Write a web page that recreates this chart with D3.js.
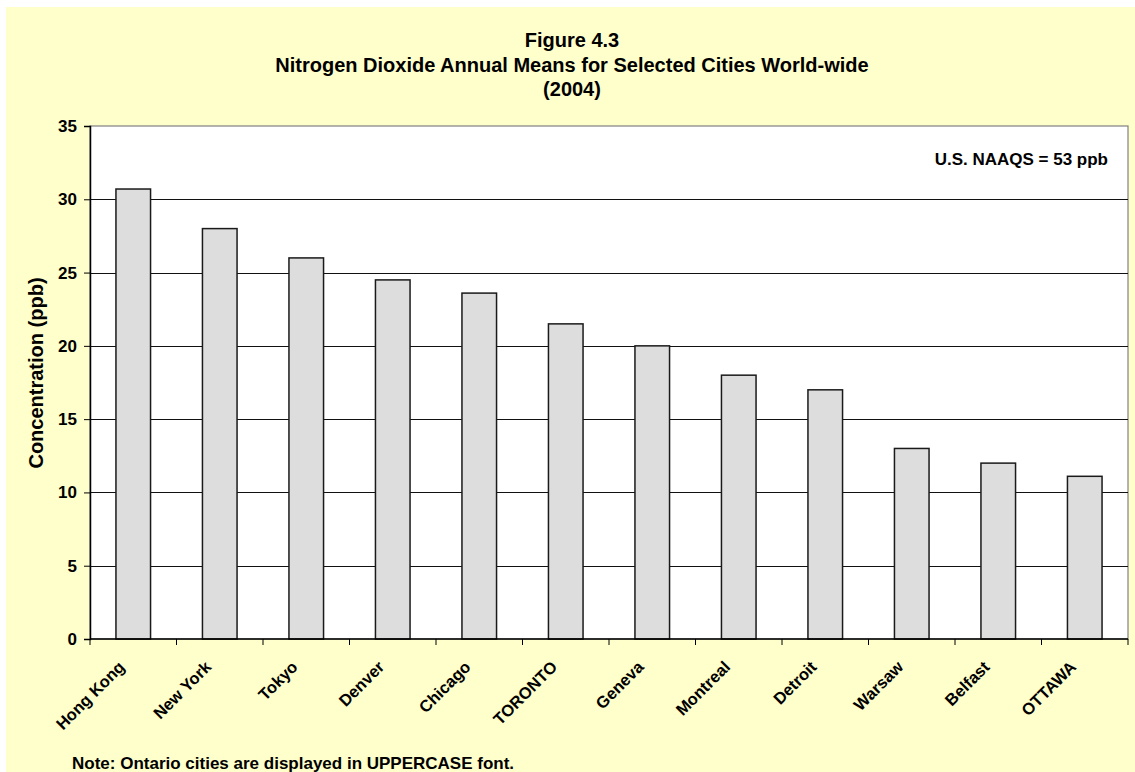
<!DOCTYPE html>
<html>
<head>
<meta charset="utf-8">
<script src="https://cdn.jsdelivr.net/npm/d3@7/dist/d3.min.js"></script>
<style>
  html, body { margin: 0; padding: 0; background: #fff; }
  svg { display: block; font-family: Arial, "Liberation Sans", sans-serif; }
</style>
</head>
<body>
<svg id="chart" width="1135" height="772"></svg>
<script>
const categories = ["Hong Kong", "New York", "Tokyo", "Denver", "Chicago", "TORONTO",
  "Geneva", "Montreal", "Detroit", "Warsaw", "Belfast", "OTTAWA"];
const values = [30.7, 28.0, 26.0, 24.5, 23.6, 21.5, 20.0, 18.0, 17.0, 13.0, 12.0, 11.1];
const yTicks = [0, 5, 10, 15, 20, 25, 30, 35];
const titleLines = ["Figure 4.3", "Nitrogen Dioxide Annual Means for Selected Cities World-wide", "(2004)"];
const yLabel = "Concentration (ppb)";
const annotation = "U.S. NAAQS = 53 ppb";
const note = "Note: Ontario cities are displayed in UPPERCASE font.";

const svg = d3.select("#chart");
svg.append("rect").attr("x", 6).attr("y", 7).attr("width", 1129).attr("height", 765).attr("fill", "#FFFFCC");

const m = { left: 90, top: 126, right: 1128, bottom: 639 };
const x = d3.scaleBand().domain(categories).range([m.left, m.right]).paddingInner(0.6).paddingOuter(0.3);
const y = d3.scaleLinear().domain([0, 35]).range([m.bottom, m.top]);

svg.append("rect").attr("x", m.left).attr("y", m.top).attr("width", m.right - m.left)
  .attr("height", m.bottom - m.top).attr("fill", "#fff").attr("stroke", "#808080").attr("stroke-width", 1.2);

// gridlines
svg.append("g").selectAll("line").data(yTicks.filter(d => d > 0 && d < 35)).join("line")
  .attr("x1", m.left).attr("x2", m.right)
  .attr("y1", d => Math.round(y(d)) + 0.5).attr("y2", d => Math.round(y(d)) + 0.5)
  .attr("stroke", "#111").attr("stroke-width", 1);

// bars
svg.append("g").selectAll("rect").data(values).join("rect")
  .attr("x", (d, i) => x(categories[i]))
  .attr("y", d => y(d))
  .attr("width", x.bandwidth())
  .attr("height", d => y(0) - y(d))
  .attr("fill", "#DDDDDD").attr("stroke", "#1a1a1a").attr("stroke-width", 1.5);

// y axis
const yAxis = svg.append("g").attr("transform", `translate(${m.left},0)`)
  .call(d3.axisLeft(y).tickValues(yTicks).tickSize(6).tickPadding(7));
yAxis.select(".domain").attr("stroke", "#000").attr("stroke-width", 1.5);
yAxis.selectAll(".tick line").attr("stroke", "#000");
yAxis.selectAll(".tick text").attr("font-size", 17).attr("font-weight", "bold").attr("fill", "#000")
  .attr("font-family", "Arial, 'Liberation Sans', sans-serif");

// x axis
const step = x.step();
const xAxisG = svg.append("g").attr("transform", `translate(0,${m.bottom})`);
xAxisG.append("line").attr("x1", m.left).attr("x2", m.right).attr("y1", 0).attr("y2", 0)
  .attr("stroke", "#000").attr("stroke-width", 1.5);
const boundaries = d3.range(categories.length + 1).map(i => m.left + i * step);
xAxisG.selectAll("line.tk").data(boundaries).join("line").attr("class", "tk")
  .attr("x1", d => d).attr("x2", d => d).attr("y1", 0).attr("y2", 6).attr("stroke", "#000");
xAxisG.selectAll("text").data(categories).join("text")
  .attr("transform", d => `translate(${x(d) + x.bandwidth() / 2 - 7.5},29) rotate(-45)`)
  .attr("text-anchor", "end")
  .attr("font-size", 16.5).attr("font-weight", "bold").text(d => d);

// y label
svg.append("text").attr("transform", `translate(43,373) rotate(-90)`)
  .attr("text-anchor", "middle").attr("font-size", 20).attr("font-weight", "bold").text(yLabel);

// title
svg.append("g").selectAll("text").data(titleLines).join("text")
  .attr("x", 572).attr("y", (d, i) => 47 + i * 24.5)
  .attr("text-anchor", "middle").attr("font-size", 20).attr("font-weight", "bold").text(d => d);

// annotation
svg.append("text").attr("x", 1108).attr("y", 165).attr("text-anchor", "end")
  .attr("font-size", 17).attr("font-weight", "bold").text(annotation);

// note
svg.append("text").attr("x", 72).attr("y", 769).attr("font-size", 17).attr("font-weight", "bold").text(note);
</script>
</body>
</html>
